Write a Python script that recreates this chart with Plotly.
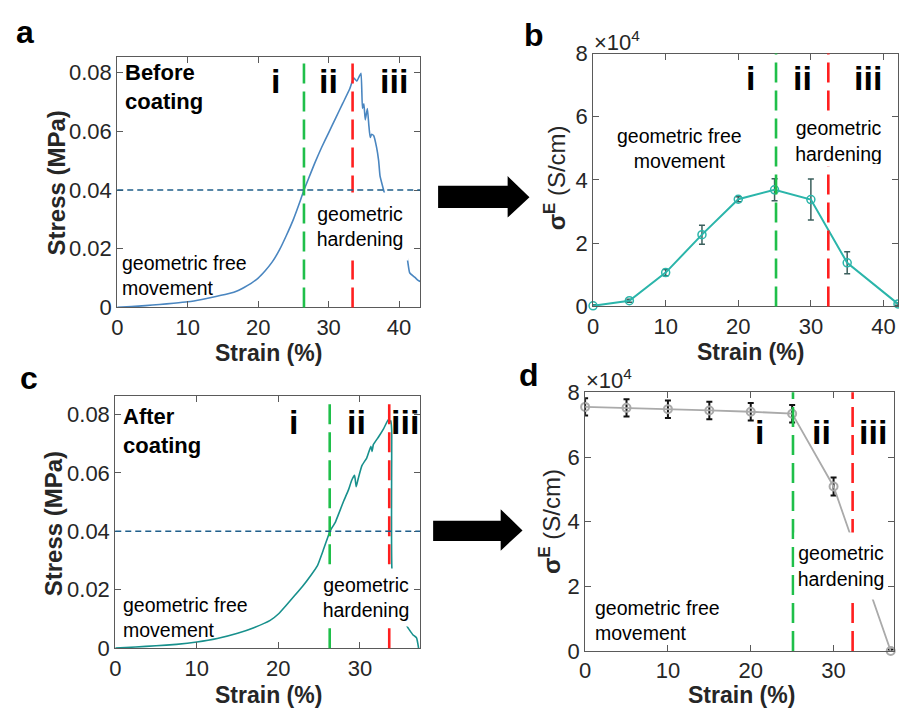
import plotly.graph_objects as go

W, H = 899, 721

# ---------------- data ----------------
# (a) stress-strain, before coating
strain_a = [0, 2, 4, 6, 8, 10, 12, 14, 16, 17, 18, 19, 20, 21, 22, 23, 24, 25, 26, 26.5,
            27, 28, 29, 30, 31, 32, 33, 33.55, 34.0, 34.3, 34.6, 34.8, 35.0, 35.2, 35.5,
            35.7, 35.9, 36.1, 36.4, 36.8, 37.1, 37.3, 37.8, 38.25, 38.8, 39.5, 40.2,
            41.07, 41.5, 42.25, 42.7, 43.0]
stress_a = [0, 0.0003, 0.0006, 0.0010, 0.0014, 0.0019, 0.0027, 0.0037, 0.0048, 0.0056,
            0.0068, 0.0082, 0.0100, 0.0125, 0.0155, 0.0195, 0.0245, 0.0300, 0.0365, 0.0400,
            0.0430, 0.0490, 0.0545, 0.0595, 0.0645, 0.0695, 0.0745, 0.0782, 0.0771, 0.0785,
            0.0798, 0.0678, 0.0694, 0.0639, 0.0678, 0.0623, 0.0579, 0.0590, 0.0585, 0.0546,
            0.0500, 0.0447, 0.0400, 0.0360, 0.0320, 0.0270, 0.0220, 0.0179, 0.0118, 0.0102,
            0.0092, 0.0088]

# (c) stress-strain, after coating
strain_c = [0, 2.5, 5, 7.5, 10, 12.5, 15, 17, 19, 20, 21, 22, 23, 24, 24.8, 25.5, 26.0,
            26.4, 27.0, 27.4, 28.0, 28.6, 29.0, 29.35, 29.55, 29.8, 30.25, 30.85, 31.35,
            31.5, 31.65, 32.3, 32.9, 33.5, 33.6, 33.8, 33.9, 33.95, 34.5, 35.2, 35.7, 36.5,
            36.95, 37.2]
stress_c = [0, 0.0004, 0.0008, 0.0013, 0.0021, 0.0033, 0.0051, 0.0070, 0.0095, 0.0117,
            0.0148, 0.0180, 0.0213, 0.0250, 0.0283, 0.0335, 0.0375, 0.0404, 0.0432, 0.0460,
            0.0503, 0.0542, 0.0575, 0.0592, 0.0553, 0.0581, 0.0625, 0.0652, 0.0691, 0.0674,
            0.0697, 0.0724, 0.0751, 0.0784, 0.0774, 0.0779, 0.0746, 0.0261, 0.0200, 0.0130,
            0.0079, 0.0046, 0.0035, 0.0]

# (b) conductivity vs strain, before coating  (x10^4 S/cm)
strain_b = [0, 5, 10, 15, 20, 25, 30, 35, 42]
sigma_b = [0.02, 0.18, 1.07, 2.27, 3.39, 3.69, 3.38, 1.38, 0.08]
err_b = [0.03, 0.05, 0.10, 0.30, 0.08, 0.35, 0.65, 0.35, 0.04]

# (d) conductivity vs strain, after coating  (x10^4 S/cm)
strain_d = [0, 5, 10, 15, 20, 25, 30, 36.9]
sigma_d = [7.55, 7.52, 7.48, 7.44, 7.40, 7.34, 5.09, 0.0]
err_d = [0.27, 0.27, 0.27, 0.27, 0.27, 0.27, 0.28, 0.05]

# region boundaries (green: i/ii, red: ii/iii)
bounds_a = [26.5, 33.4]
bounds_b = [25.2, 32.4]
bounds_c = [26.3, 33.6]
bounds_d = [25.1, 32.3]
stress_level = 0.04

x_ticks_ab = [0, 10, 20, 30, 40]
x_ticks_cd = [0, 10, 20, 30]
stress_ticks = [0, 0.02, 0.04, 0.06, 0.08]
stress_labels = ["0", "0.02", "0.04", "0.06", "0.08"]
sigma_ticks = [0, 2, 4, 6, 8]

# ---------------- style ----------------
FONT = "Liberation Sans, Arial, sans-serif"
TXT = "#262626"
AXC = "#5a5a5a"
GREEN = "#1fbf4a"
RED = "#ff1f1f"


def px2paper(x, y):
    return x / W, 1 - y / H


def dom(x0, x1, y0, y1):
    a, b = px2paper(x0, y1)
    c, d = px2paper(x1, y0)
    return [a, c], [b, d]


fig = go.Figure()

panels = {
    "a": dict(ax="", box=(112, 417, 47, 306), xr=[0, 43], yr=[0, 0.0852]),
    "b": dict(ax="2", box=(591, 898, 43, 305), xr=[0, 42], yr=[0, 8]),
    "c": dict(ax="3", box=(110, 417, 398, 659), xr=[0, 37.4], yr=[0, 0.0863]),
    "d": dict(ax="4", box=(583, 894, 394, 662), xr=[0, 37.3], yr=[0, 8]),
}

axis_common = dict(showline=True, linecolor=AXC, linewidth=1, mirror="ticks",
                   ticks="inside", ticklen=6, tickcolor=AXC, showgrid=False,
                   zeroline=False, tickfont=dict(family=FONT, size=22, color=TXT))

layout_axes = {}
for key, p in panels.items():
    xd, yd = dom(*p["box"])
    xn = "xaxis" + p["ax"]
    yn = "yaxis" + p["ax"]
    xt = x_ticks_ab if key in "ab" else x_ticks_cd
    layout_axes[xn] = dict(axis_common, domain=xd, range=p["xr"], anchor="y" + p["ax"],
                           tickvals=xt, ticklabelstandoff=0)
    if key in "ac":
        layout_axes[yn] = dict(axis_common, domain=yd, range=p["yr"], anchor="x" + p["ax"],
                               tickvals=stress_ticks, ticktext=stress_labels)
    else:
        layout_axes[yn] = dict(axis_common, domain=yd, range=p["yr"], anchor="x" + p["ax"],
                               tickvals=sigma_ticks, ticktext=[str(t) for t in sigma_ticks])

# traces
fig.add_trace(go.Scatter(x=strain_a, y=stress_a, mode="lines",
                         line=dict(color="#4a86c0", width=1.6, shape="spline", smoothing=0.4),
                         xaxis="x", yaxis="y"))
fig.add_trace(go.Scatter(x=strain_c, y=stress_c, mode="lines",
                         line=dict(color="#17908c", width=1.6, shape="spline", smoothing=0.4),
                         xaxis="x3", yaxis="y3"))
fig.add_trace(go.Scatter(x=strain_b, y=sigma_b, mode="lines+markers", cliponaxis=False,
                         line=dict(color="#2bb5aa", width=2),
                         marker=dict(symbol="circle-open", size=8,
                                     line=dict(color="#2a6f6b", width=1.5)),
                         error_y=dict(type="data", array=err_b, color="#3b5f5c",
                                      thickness=1.5, width=3),
                         xaxis="x2", yaxis="y2"))
fig.add_trace(go.Scatter(x=strain_d, y=sigma_d, mode="lines+markers", cliponaxis=False,
                         line=dict(color="#aaaaaa", width=1.8),
                         marker=dict(symbol="circle-open", size=8,
                                     line=dict(color="#7f9bb8", width=2)),
                         error_y=dict(type="data", array=err_d, color="#111111",
                                      thickness=2, width=3),
                         xaxis="x4", yaxis="y4"))

shapes = []
dash_long = "20px,8px"
for bounds, ax in [(bounds_a, ""), (bounds_b, "2"), (bounds_c, "3"), (bounds_d, "4")]:
    for xv, col in zip(bounds, [GREEN, RED]):
        shapes.append(dict(type="line", xref="x" + ax, yref="y" + ax + " domain",
                           x0=xv, x1=xv, y0=0, y1=1, layer="above",
                           line=dict(color=col, width=2.6, dash=dash_long)))
for ax in ["", "3"]:
    shapes.append(dict(type="line", xref="x" + ax + " domain", yref="y" + ax,
                       x0=0, x1=1, y0=stress_level, y1=stress_level, layer="above",
                       line=dict(color="#1f5f8b", width=1.5, dash="6px,4px")))


def arrow(x0, x1, xt, ys0, ys1, yh0, yh1, yt):
    pts = [(x0, ys0), (x1, ys0), (x1, yh0), (xt, yt), (x1, yh1), (x1, ys1), (x0, ys1)]
    path = ""
    for i, (px, py) in enumerate(pts):
        X, Y = px2paper(px, py)
        path += ("M" if i == 0 else "L") + f"{X:.5f},{Y:.5f} "
    return dict(type="path", xref="paper", yref="paper", path=path + "Z",
                fillcolor="black", line=dict(color="black", width=0))


shapes.append(arrow(435, 505, 527, 180, 203, 170, 213, 192))
shapes.append(arrow(430, 498, 520, 527, 548, 515, 558, 537))

annotations = []


def ann(text, x, y, xref, yref, size, bold=False, xanchor="center", yanchor="middle",
        align="center", **kw):
    t = f"<b>{text}</b>" if bold else text
    d = dict(text=t, x=x, y=y, xref=xref, yref=yref, showarrow=False,
             font=dict(family=FONT, size=size, color=kw.pop("color", "black")),
             xanchor=xanchor, yanchor=yanchor, align=align)
    d.update(kw)
    annotations.append(d)


def pann(text, px, py, size, **kw):
    X, Y = px2paper(px, py)
    ann(text, X, Y, "paper", "paper", size, **kw)


# panel letters
pann("a", 19, 21, 32, bold=True)
pann("b", 532, 24, 32, bold=True)
pann("c", 23, 379, 32, bold=True)
pann("d", 527, 376, 32, bold=True)

# axis titles
for cx, cy in [(264, 353), (750, 352), (264, 708), (740, 708)]:
    pann("Strain (%)", cx, cy, 23, bold=True, color=TXT)
for cx, cy in [(51, 177), (48, 530)]:
    pann("Stress (MPa)", cx, cy, 24, bold=True, color=TXT, textangle=-90)
for cx, cy in [(553, 172), (547, 528)]:
    pann("<b>σ<sup>E</sup></b> (S/cm)", cx, cy, 24, color=TXT, textangle=-90)

# x10^4
pann("×10<sup>4</sup>", 590, 30, 22, xanchor="left", color=TXT)
pann("×10<sup>4</sup>", 582, 380, 22, xanchor="left", color=TXT)

# panel a texts
ann("Before<br>coating", 1.55, 0.075, "x", "y", 22, bold=True, xanchor="left",
    align="left", xshift=-5)
ann("geometric free<br>movement", 1.13, 0.0109, "x", "y", 19.5, xanchor="left",
    align="left", xshift=-5)
ann("geometric<br>hardening", 34.5, 0.0275, "x", "y", 19.5, bgcolor="white",
    width=92, height=63, borderpad=2)
for t, xv in [("i", 22.5), ("ii", 30.0), ("iii", 39.3)]:
    ann(t, xv, 0.077, "x", "y", 34, bold=True)

# panel b texts
ann("geometric free<br>movement", 11.97, 4.99, "x2", "y2", 19.5)
ann("geometric<br>hardening", 33.8, 5.22, "x2", "y2", 19.5, bgcolor="white",
    width=89, height=46, borderpad=2)
for t, xv in [("i", 21.75), ("ii", 28.8), ("iii", 37.9)]:
    ann(t, xv, 7.23, "x2", "y2", 34, bold=True)

# panel c texts
ann("After<br>coating", 1.34, 0.0745, "x3", "y3", 22, bold=True, xanchor="left",
    align="left", xshift=-5)
ann("geometric free<br>movement", 1.34, 0.0104, "x3", "y3", 19.5, xanchor="left",
    align="left", xshift=-5)
ann("geometric<br>hardening", 30.7, 0.0174, "x3", "y3", 19.5, bgcolor="white",
    width=88, height=53, borderpad=2)
for t, xv in [("i", 21.9), ("ii", 29.6), ("iii", 35.5)]:
    ann(t, xv, 0.0774, "x3", "y3", 34, bold=True)

# panel d texts
ann("geometric free<br>movement", 1.56, 0.93, "x4", "y4", 19.5, xanchor="left",
    align="left", xshift=-5)
ann("geometric<br>hardening", 30.85, 2.62, "x4", "y4", 19.5, bgcolor="white",
    width=88, height=62, borderpad=2)
for t, xv in [("i", 21.0), ("ii", 28.6), ("iii", 34.8)]:
    ann(t, xv, 6.78, "x4", "y4", 34, bold=True)

fig.update_layout(width=W, height=H, margin=dict(l=0, r=0, t=0, b=0),
                  paper_bgcolor="white", plot_bgcolor="white", showlegend=False,
                  shapes=shapes, annotations=annotations,
                  font=dict(family=FONT, color=TXT), **layout_axes)

fig.write_html("out.html")
